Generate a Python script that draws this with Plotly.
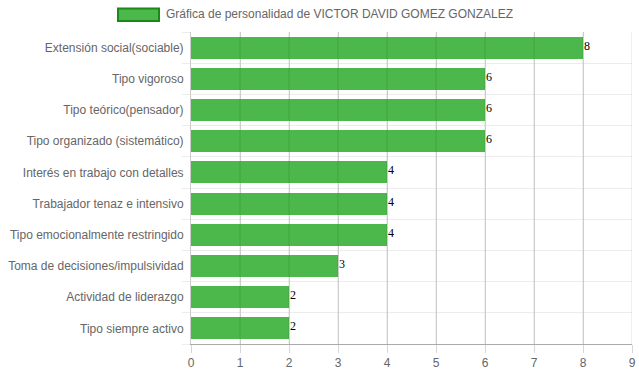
import plotly.graph_objects as go

categories = [
    "Extensión social(sociable)",
    "Tipo vigoroso",
    "Tipo teórico(pensador)",
    "Tipo organizado (sistemático)",
    "Interés en trabajo con detalles",
    "Trabajador tenaz e intensivo",
    "Tipo emocionalmente restringido",
    "Toma de decisiones/impulsividad",
    "Actividad de liderazgo",
    "Tipo siempre activo",
]
values = [8, 6, 6, 6, 4, 4, 4, 3, 2, 2]
series_name = "Gráfica de personalidad de VICTOR DAVID GOMEZ GONZALEZ"
x_ticks = list(range(0, 10))

GREEN = "#4cb84c"
pos = list(range(len(categories)))

fig = go.Figure()
fig.add_trace(go.Bar(
    x=values, y=pos, orientation="h", name=series_name,
    marker=dict(color=GREEN, line=dict(width=0)),
    width=0.71, showlegend=False,
))

for v, p in zip(values, pos):
    fig.add_annotation(x=v, y=p, xref="x", yref="y", text=str(v), showarrow=False,
                       xanchor="left", yanchor="middle", xshift=-1, yshift=2,
                       font=dict(family="Liberation Serif, Times New Roman, serif", size=12, color="#000"))

for v in x_ticks[1:]:
    fig.add_shape(type="line", xref="x", yref="paper", x0=v, x1=v, y0=0, y1=1,
                  line=dict(color="rgba(0,0,0,0.12)", width=1), layer="above")

fig.update_layout(
    width=639, height=372,
    margin=dict(l=191, r=7, t=32, b=28, autoexpand=False),
    plot_bgcolor="white", paper_bgcolor="white",
    font=dict(family="Liberation Sans, Arial, sans-serif", size=12, color="#666"),
    bargap=0,
    xaxis=dict(
        range=[0, 9], tickvals=x_ticks, showgrid=True, gridcolor="#dadada",
        ticks="outside", ticklen=8, tickcolor="#d6d6d6", automargin=False,
        showline=True, linecolor="#aaaaaa", linewidth=1, zeroline=False,
        tickfont=dict(size=12, color="#666"),
    ),
    yaxis=dict(
        range=[9.5, -0.5], tickvals=pos, ticktext=categories, showgrid=False,
        ticks="", showline=True, linecolor="#cccccc", zeroline=False, automargin=False,
        ticklabelstandoff=4,
        minor=dict(tickvals=[p - 0.5 for p in pos] + [len(pos) - 0.5], showgrid=True,
                   gridcolor="#ececec", ticks="outside", ticklen=8, tickcolor="#ececec"),
        tickfont=dict(size=12, color="#666"),
    ),
)

# legend box drawn in paper coords
fig.add_shape(type="rect", xref="paper", yref="paper",
              x0=-0.1655, x1=-0.0725, y0=1.035, y1=1.0755,
              fillcolor=GREEN, line=dict(color="#178a17", width=2))
fig.add_annotation(xref="paper", yref="paper", x=-0.0615, y=1.0565,
                   xanchor="left", yanchor="middle", showarrow=False,
                   text=series_name, font=dict(size=12, color="#666"))

fig.write_html("out.html")
